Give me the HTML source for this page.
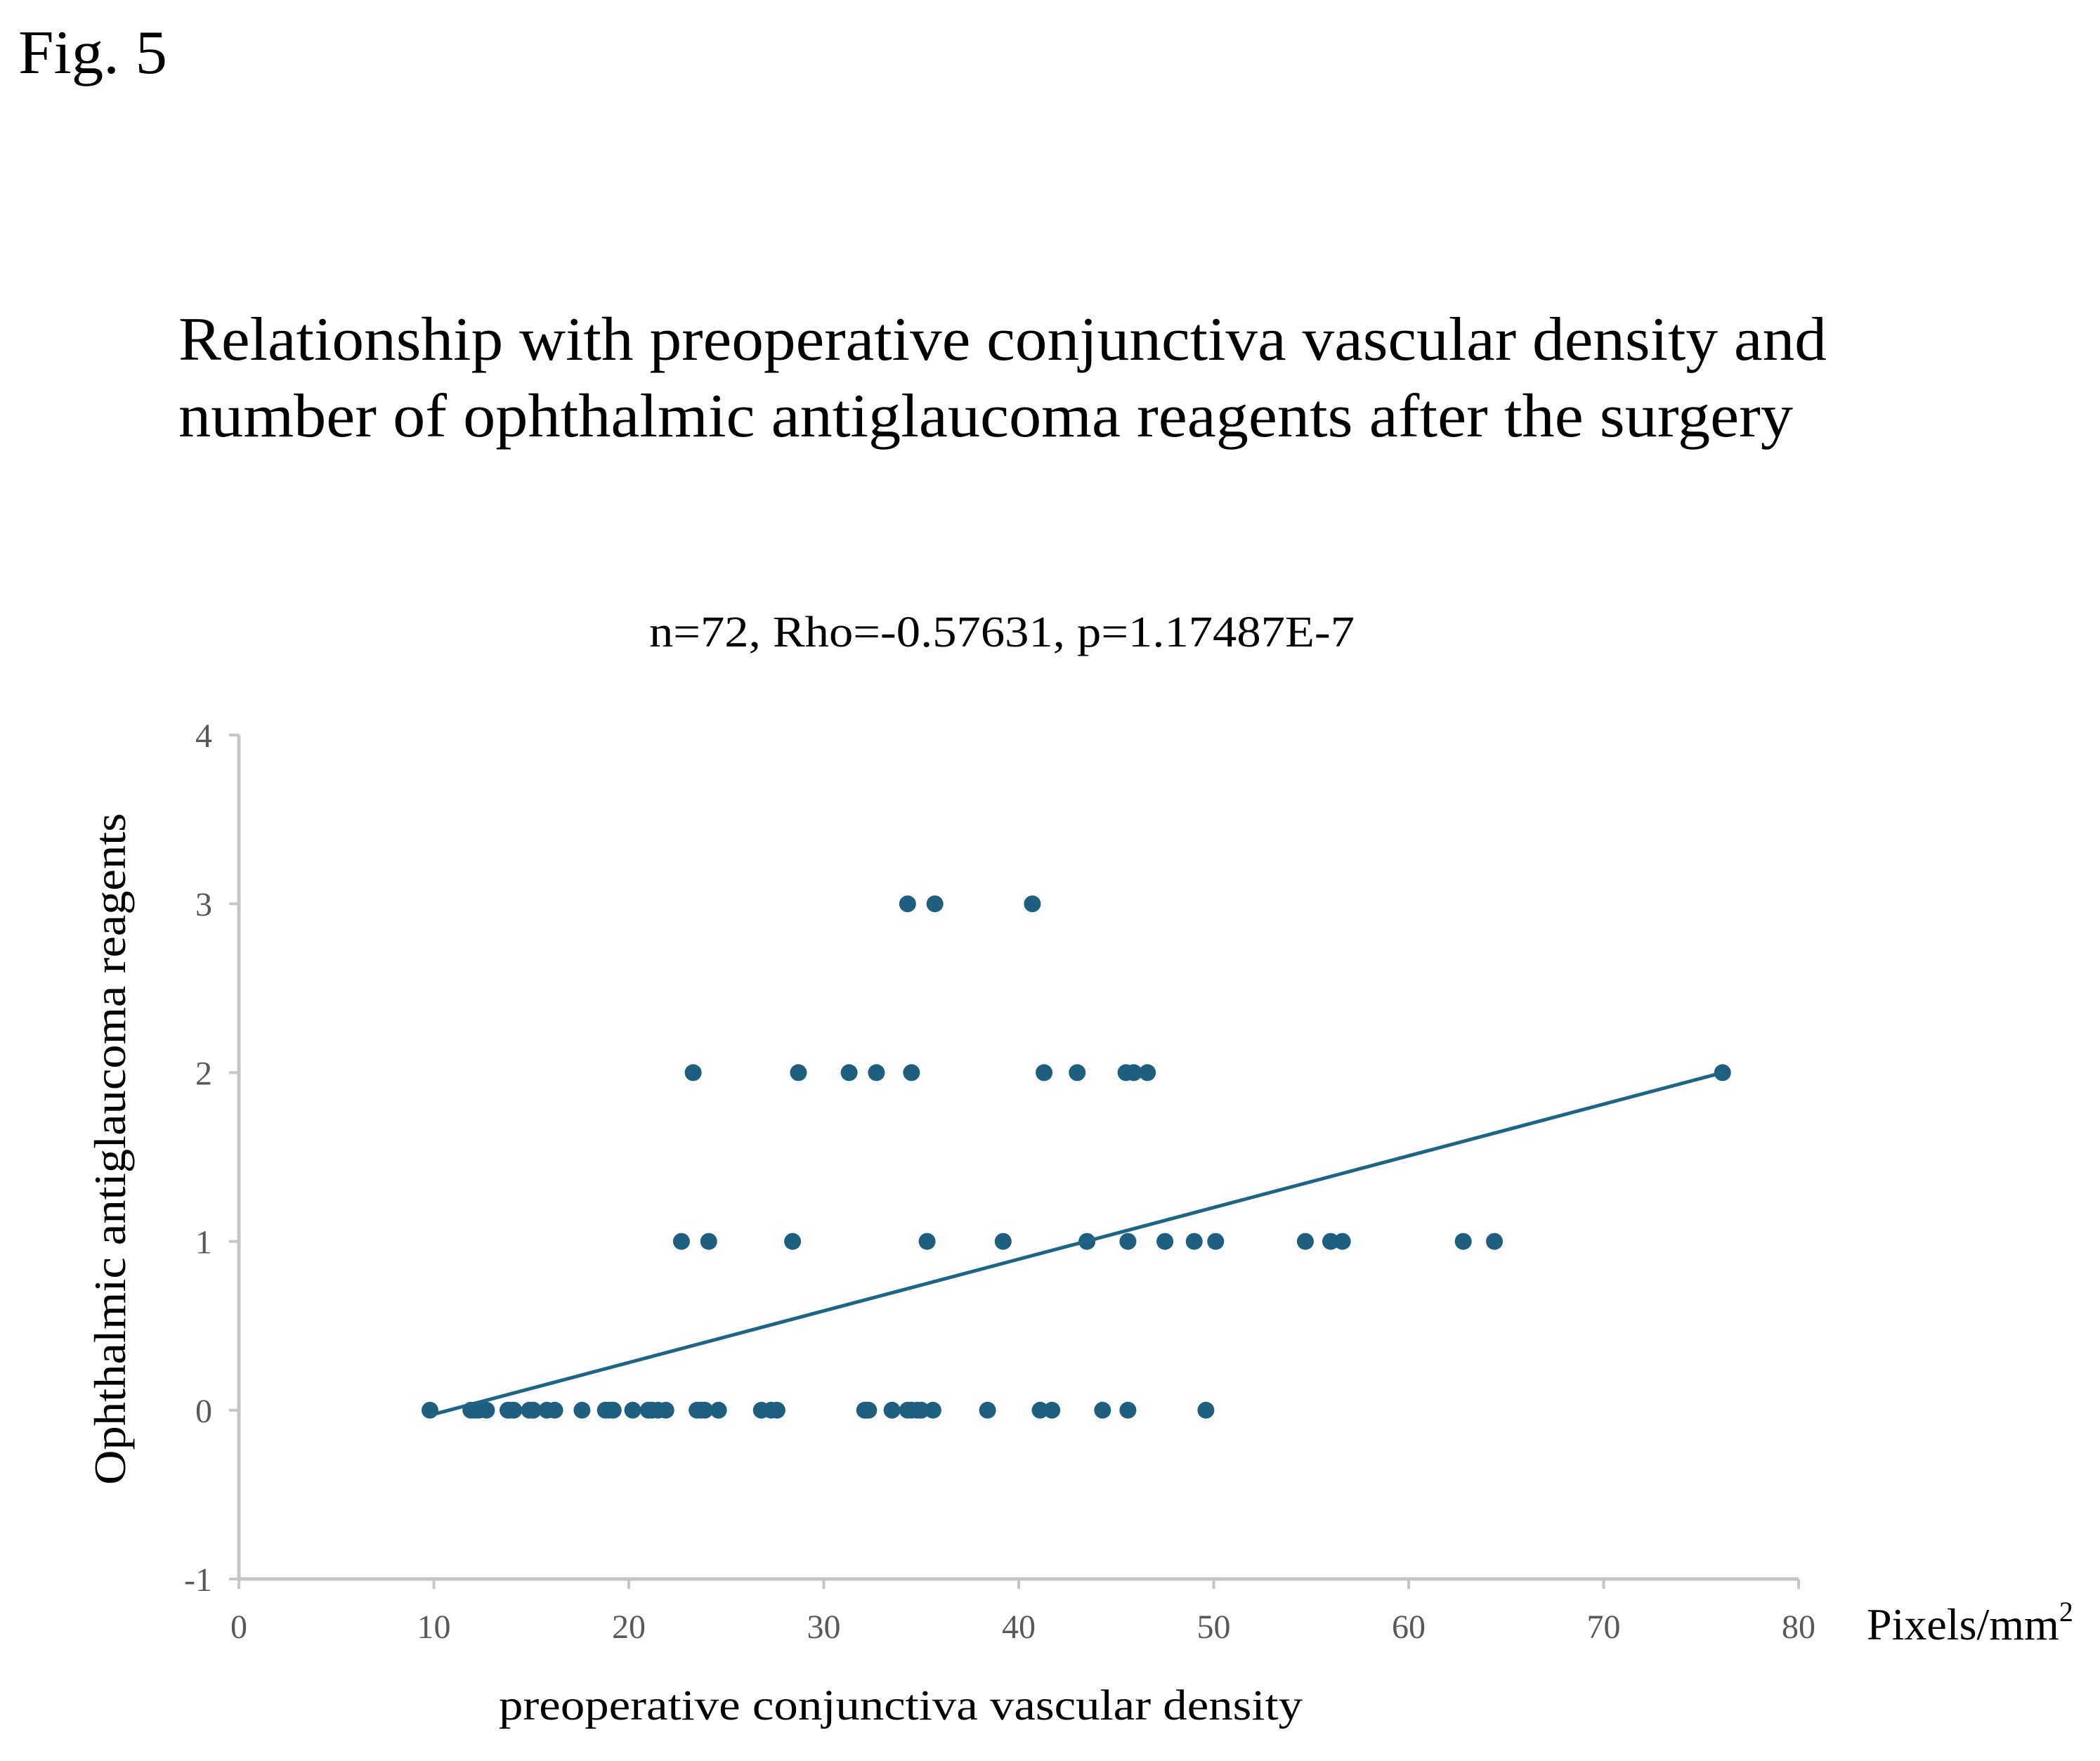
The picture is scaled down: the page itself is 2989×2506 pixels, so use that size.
<!DOCTYPE html>
<html><head><meta charset="utf-8"><style>
html,body{margin:0;padding:0;background:#fff;}
svg{display:block;font-family:"Liberation Serif",serif;}
</style></head><body>
<svg id="chart" width="2989" height="2506" viewBox="0 0 2989 2506">
<text x="26" y="104" font-size="88" fill="#000" textLength="212" lengthAdjust="spacingAndGlyphs">Fig. 5</text>
<text x="254" y="512" font-size="88" fill="#000" textLength="2346" lengthAdjust="spacingAndGlyphs">Relationship with preoperative conjunctiva vascular density and</text>
<text x="254" y="621" font-size="88" fill="#000" textLength="2298" lengthAdjust="spacingAndGlyphs">number of ophthalmic  antiglaucoma reagents after the surgery</text>
<text x="924" y="920" font-size="62" fill="#000" textLength="1004" lengthAdjust="spacingAndGlyphs">n=72, Rho=-0.57631, p=1.17487E-7</text>
<g id="axes"></g>
<g id="marks"></g>
<text x="2657" y="2333" font-size="64" fill="#000">Pixels/mm<tspan font-size="40" dy="-26">2</tspan></text>
<text x="710" y="2447" font-size="61" fill="#000" textLength="1144" lengthAdjust="spacingAndGlyphs">preoperative conjunctiva vascular density</text>
<text transform="translate(178,1635) rotate(-90)" text-anchor="middle" font-size="64" fill="#000" textLength="956" lengthAdjust="spacingAndGlyphs">Ophthalmic antiglaucoma reagents</text>
</svg>
<script>
const xTicks=[0,10,20,30,40,50,60,70,80];
const yTicks=[-1,0,1,2,3,4];
const densityValues=[9.8,11.9,12.1,12.3,12.7,13.8,13.9,14.1,14.9,15.1,15.8,16.2,17.6,18.8,19.0,19.2,20.2,21.0,21.2,21.5,21.9,23.5,23.7,23.9,24.6,26.8,27.3,27.6,32.1,32.2,32.3,33.5,34.3,34.5,34.8,35.0,35.6,38.4,41.1,41.7,44.3,45.6,49.6,
22.7,24.1,28.4,35.3,39.2,43.5,45.6,47.5,49.0,50.1,54.7,56.0,56.6,62.8,64.4,
23.3,28.7,31.3,32.7,34.5,41.3,43.0,45.5,45.9,46.6,76.1,
34.3,35.7,40.7];
const reagentValues=[0,0,0,0,0,0,0,0,0,0,0,0,0,0,0,0,0,0,0,0,0,0,0,0,0,0,0,0,0,0,0,0,0,0,0,0,0,0,0,0,0,0,0,
1,1,1,1,1,1,1,1,1,1,1,1,1,1,1,
2,2,2,2,2,2,2,2,2,2,2,
3,3,3];
const trendX=[9.8,76.1];
const trendY=[-0.03,2.0];
const NS="http://www.w3.org/2000/svg";
const X0=340,X1=2560,Y0=2247,Y1=1046;
const xs=v=>X0+(v-0)/(80-0)*(X1-X0);
const ys=v=>Y0-(v-(-1))/(4-(-1))*(Y0-Y1);
function mk(tag,attrs,parent){const e=document.createElementNS(NS,tag);for(const k in attrs)e.setAttribute(k,attrs[k]);parent.appendChild(e);return e;}
const axes=document.getElementById('axes'),marks=document.getElementById('marks');
let a=mk('line',{x1:X0,y1:Y1,x2:X0,y2:Y0,stroke:'#c6c6c6','stroke-width':5},axes);


a=mk('line',{x1:X0,y1:Y0,x2:X1,y2:Y0,stroke:'#c6c6c6','stroke-width':5},axes);


yTicks.forEach(t=>{
  const tk=mk('line',{x1:X0-14,y1:ys(t),x2:X0,y2:ys(t),stroke:'#c6c6c6','stroke-width':4},axes);
  
  
  const l=mk('text',{x:X0-38,y:ys(t)+17,'text-anchor':'end','font-size':48,fill:'#595959'},axes);
  l.textContent=t;
  
  
});
xTicks.forEach(t=>{
  const tk=mk('line',{x1:xs(t),y1:Y0,x2:xs(t),y2:Y0+14,stroke:'#c6c6c6','stroke-width':4},axes);
  
  
  const l=mk('text',{x:xs(t),y:2331,'text-anchor':'middle','font-size':48,fill:'#595959'},axes);
  l.textContent=t;
  
  
});
densityValues.forEach((v,i)=>{
  const c=mk('circle',{cx:xs(v),cy:ys(reagentValues[i]),r:12,fill:'#1e5f80'},marks);
  
  
});
const tl=mk('line',{x1:xs(trendX[0]),y1:ys(trendY[0]),x2:xs(trendX[1]),y2:ys(trendY[1]),stroke:'#1e6585','stroke-width':5},marks);


</script>
</body></html>
